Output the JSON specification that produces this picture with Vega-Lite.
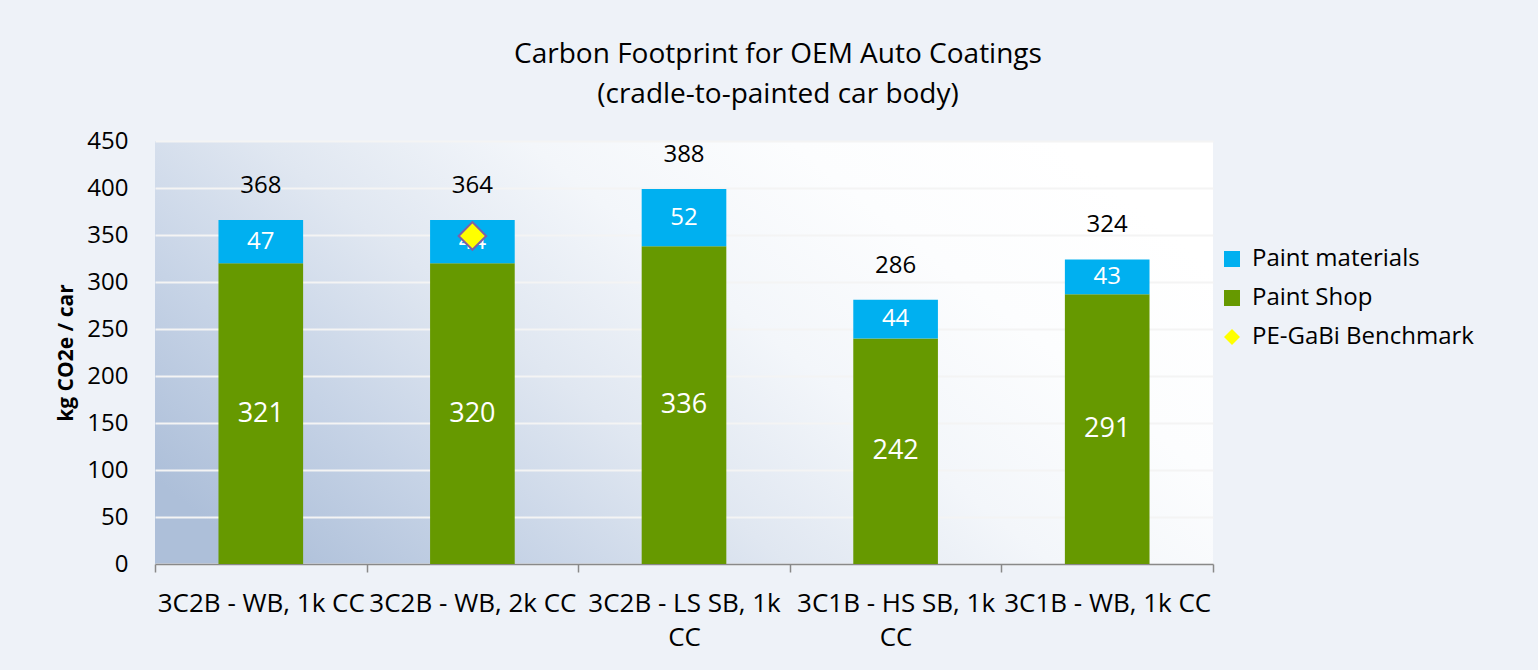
{
  "$schema": "https://vega.github.io/schema/vega-lite/v6.json",
  "width": 1058,
  "height": 423,
  "autosize": "none",
  "padding": {"left": 155, "top": 141, "right": 325, "bottom": 106},
  "background": "#eef2f8",
  "config": {
    "view": {
      "stroke": null,
      "fill": {
        "gradient": "linear",
        "x1": 0, "y1": 0.8, "x2": 1, "y2": 0.3,
        "stops": [
          {"offset": 0, "color": "#adbfd9"},
          {"offset": 0.2, "color": "#c6d3e6"},
          {"offset": 0.4, "color": "#e0e7f1"},
          {"offset": 0.6, "color": "#f3f6fa"},
          {"offset": 0.8, "color": "#fcfdfe"},
          {"offset": 1, "color": "#ffffff"}
        ]
      }
    },
    "font": "Open Sans"
  },
  "title": {
    "text": ["Carbon Footprint for OEM Auto Coatings", "(cradle-to-painted car body)"],
    "fontSize": 28,
    "fontWeight": "normal",
    "color": "#000000",
    "anchor": "middle",
    "offset": 20,
    "dx": 94,
    "lineHeight": 40
  },
  "datasets": {
    "segments": [
      {"category": "3C2B - WB, 1k CC", "series": "Paint Shop", "value": 320, "label": "321"},
      {"category": "3C2B - WB, 1k CC", "series": "Paint materials", "value": 46, "label": "47"},
      {"category": "3C2B - WB, 2k CC", "series": "Paint Shop", "value": 320, "label": "320"},
      {"category": "3C2B - WB, 2k CC", "series": "Paint materials", "value": 46, "label": "44"},
      {"category": "3C2B - LS SB, 1k CC", "series": "Paint Shop", "value": 338, "label": "336"},
      {"category": "3C2B - LS SB, 1k CC", "series": "Paint materials", "value": 61, "label": "52"},
      {"category": "3C1B - HS SB, 1k CC", "series": "Paint Shop", "value": 240, "label": "242"},
      {"category": "3C1B - HS SB, 1k CC", "series": "Paint materials", "value": 41, "label": "44"},
      {"category": "3C1B - WB, 1k CC", "series": "Paint Shop", "value": 287, "label": "291"},
      {"category": "3C1B - WB, 1k CC", "series": "Paint materials", "value": 37, "label": "43"}
    ],
    "totals": [
      {"category": "3C2B - WB, 1k CC", "top": 366, "label": "368"},
      {"category": "3C2B - WB, 2k CC", "top": 366, "label": "364"},
      {"category": "3C2B - LS SB, 1k CC", "top": 399, "label": "388"},
      {"category": "3C1B - HS SB, 1k CC", "top": 281, "label": "286"},
      {"category": "3C1B - WB, 1k CC", "top": 324, "label": "324"}
    ],
    "benchmark": [
      {"category": "3C2B - WB, 2k CC", "series": "PE-GaBi Benchmark", "value": 349}
    ]
  },
  "layer": [
    {
      "data": {"name": "segments"},
      "transform": [
        {"stack": "value", "groupby": ["category"], "sort": [{"field": "series", "order": "ascending"}], "as": ["v0", "v1"]},
        {"calculate": "(datum.v0 + datum.v1) / 2", "as": "mid"}
      ],
      "layer": [
        {
          "mark": {"type": "bar", "width": {"band": 0.4}},
          "encoding": {
            "x": {
              "field": "category",
              "type": "nominal",
              "scale": {
                "domain": ["3C2B - WB, 1k CC", "3C2B - WB, 2k CC", "3C2B - LS SB, 1k CC", "3C1B - HS SB, 1k CC", "3C1B - WB, 1k CC"],
                "paddingInner": 0,
                "paddingOuter": 0
              },
              "axis": {
                "title": null,
                "domainColor": "#898989",
                "domainWidth": 1.5,
                "ticks": true,
                "tickBand": "extent",
                "tickColor": "#898989",
                "tickSize": 8,
                "tickWidth": 1.5,
                "labelFontSize": 26,
                "labelColor": "#000000",
                "labelPadding": 18,
                "labelAngle": 0,
                "labelLimit": 0,
                "labelBaseline": "top",
                "labelLineHeight": 34,
                "labelOverlap": false,
                "labelExpr": "datum.value == '3C2B - LS SB, 1k CC' ? ['3C2B - LS SB, 1k', 'CC'] : datum.value == '3C1B - HS SB, 1k CC' ? ['3C1B - HS SB, 1k', 'CC'] : datum.value",
                "grid": false
              }
            },
            "y": {
              "field": "v1",
              "type": "quantitative",
              "scale": {"domain": [0, 450], "nice": false, "zero": true},
              "axis": {
                "domain": false,
                "ticks": false,
                "grid": true,
                "gridColor": "#f4f4f4",
                "gridWidth": 2,
                "values": [0, 50, 100, 150, 200, 250, 300, 350, 400, 450],
                "labelFontSize": 24,
                "labelPadding": 27,
                "labelColor": "#000000",
                "title": "kg CO2e / car",
                "titleFontSize": 21,
                "titleFontWeight": "bold",
                "titleColor": "#000000",
                "titlePadding": 10
              }
            },
            "y2": {"field": "v0"},
            "color": {
              "field": "series",
              "type": "nominal",
              "scale": {
                "domain": ["Paint materials", "Paint Shop", "PE-GaBi Benchmark"],
                "range": ["#00b0f0", "#669900", "#ffff00"]
              },
              "legend": {
                "title": null,
                "orient": "none",
                "legendX": 1065,
                "legendY": 106,
                "labelFontSize": 24,
                "labelColor": "#000000",
                "labelOffset": 8,
                "labelLimit": 300,
                "rowPadding": 15,
                "symbolSize": 256,
                "symbolStrokeWidth": 0,
                "symbolOpacity": 1
              }
            }
          }
        },
        {
          "mark": {"type": "text", "color": "#ffffff", "baseline": "middle", "align": "center"},
          "encoding": {
            "x": {"field": "category", "type": "nominal"},
            "y": {"field": "mid", "type": "quantitative"},
            "text": {"field": "label"},
            "size": {"condition": {"test": "datum.series === 'Paint Shop'", "value": 27}, "value": 24}
          }
        }
      ]
    },
    {
      "data": {"name": "totals"},
      "mark": {"type": "text", "color": "#000000", "fontSize": 24, "baseline": "middle", "align": "center", "yOffset": -34},
      "encoding": {
        "x": {"field": "category", "type": "nominal"},
        "y": {"field": "top", "type": "quantitative"},
        "text": {"field": "label"}
      }
    },
    {
      "data": {"name": "benchmark"},
      "mark": {"type": "point", "filled": true, "size": 760, "stroke": "#7f5fa6", "strokeWidth": 2, "opacity": 1},
      "encoding": {
        "x": {"field": "category", "type": "nominal"},
        "y": {"field": "value", "type": "quantitative"},
        "color": {"field": "series", "type": "nominal"},
        "shape": {
          "field": "series",
          "type": "nominal",
          "scale": {
            "domain": ["Paint materials", "Paint Shop", "PE-GaBi Benchmark"],
            "range": ["square", "square", "diamond"]
          }
        }
      }
    }
  ]
}
